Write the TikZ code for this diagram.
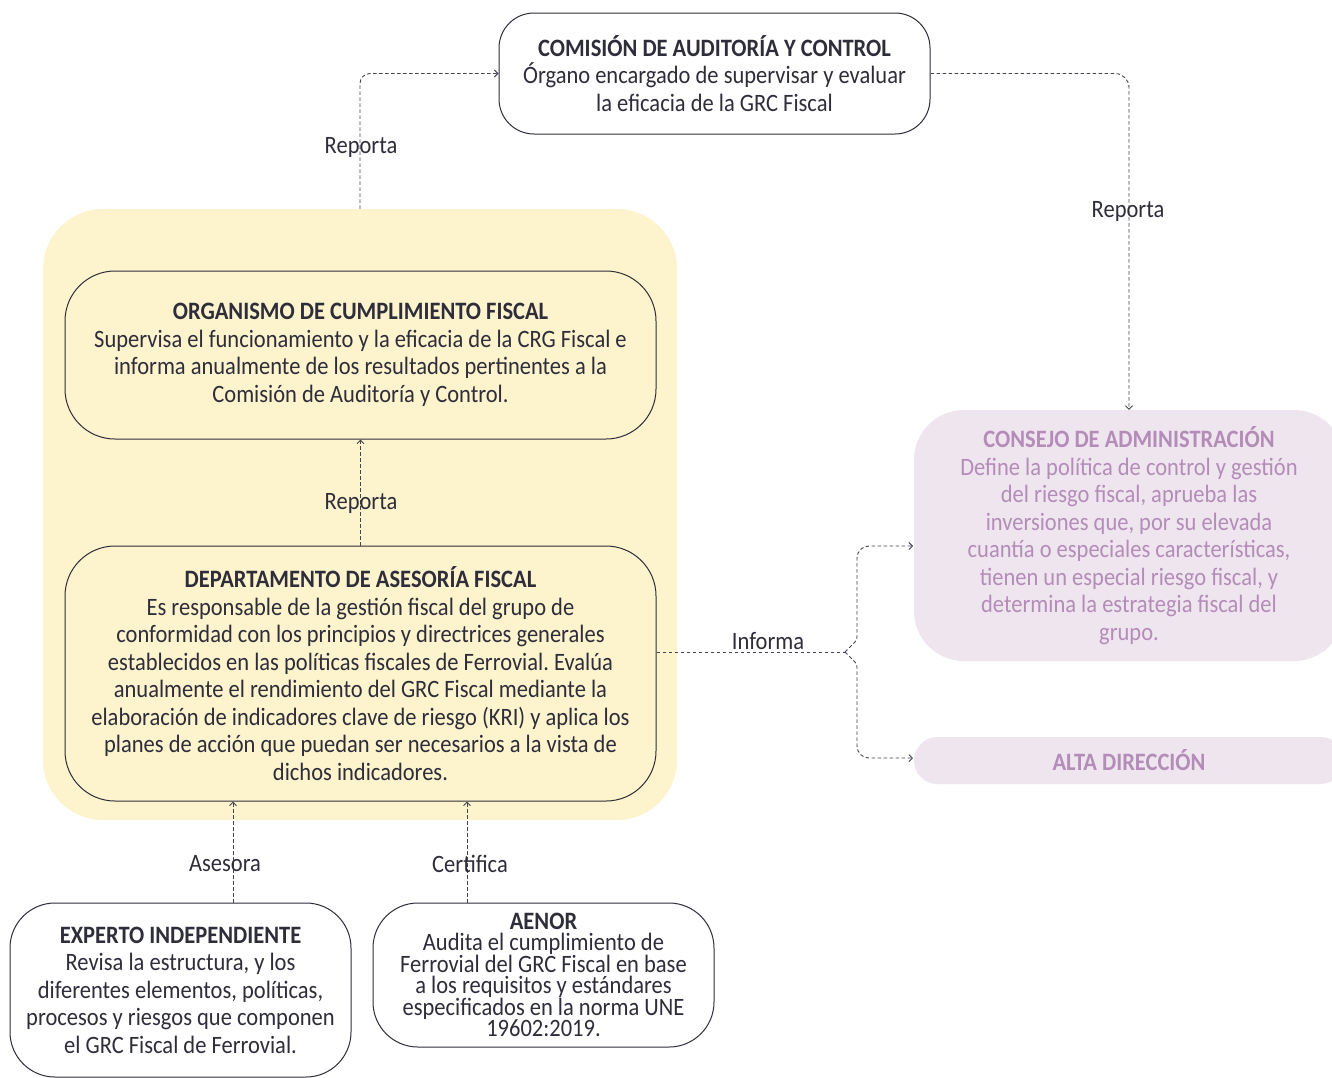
\documentclass[tikz,border=0pt]{standalone}
\usepackage{fontspec}
\setmainfont{Carlito}[FakeStretch=0.9]
\usetikzlibrary{arrows.meta}
\definecolor{ink}{HTML}{2E2D3A}
\definecolor{lnk}{HTML}{44434F}
\definecolor{yel}{HTML}{FDF3CD}
\definecolor{lil}{HTML}{EEE5EF}
\definecolor{liltext}{HTML}{B48CB8}
\newcommand\myBody{\fontsize{25}{27.5}\selectfont}
\newcommand\myTight{\fontsize{25}{21.5}\selectfont}
\frenchspacing
\begin{document}
\frenchspacing
\begin{tikzpicture}[x=1pt,y=-1pt,
  box/.style={draw=ink, line width=1pt, align=center, text=ink, inner sep=0pt, font=\myBody},
  pbox/.style={fill=lil, align=center, text=liltext, inner sep=0pt, font=\myBody},
  conn/.style={draw=lnk, line width=0.9pt, dash pattern=on 3.5pt off 2.5pt, -{Straight Barb[length=3.5pt,width=7pt]}},
  dl/.style={draw=lnk, line width=0.9pt, dash pattern=on 3.5pt off 2.5pt},
  lab/.style={text=ink, font=\myBody, inner sep=0pt}
]
\useasboundingbox (0,0) rectangle (1332,1077);
\fill[white] (0,0) rectangle (1332,1077);

% group background
\node[fill=yel, rounded corners=60pt, minimum width=634pt, minimum height=611pt, inner sep=0pt] (grp) at (360,514.5) {};

\node[box, rounded corners=35pt, minimum width=431pt, minimum height=121pt, fill=white] (com) at (714.5,73.5)
 {{\bfseries COMISIÓN DE AUDITORÍA Y CONTROL}\\Órgano encargado de supervisar y evaluar\\la eficacia de la GRC Fiscal};

\node[box, rounded corners=50pt, minimum width=591pt, minimum height=168pt, fill=yel] (org) at (360.5,355)
 {{\bfseries ORGANISMO DE CUMPLIMIENTO FISCAL}\\Supervisa el funcionamiento y la eficacia de la CRG Fiscal e\\informa anualmente de los resultados pertinentes a la\\Comisión de Auditoría y Control.};

\node[box, rounded corners=50pt, minimum width=591pt, minimum height=255pt, fill=yel] (dep) at (360.5,673.5)
 {{\bfseries DEPARTAMENTO DE ASESORÍA FISCAL}\\Es responsable de la gestión fiscal del grupo de\\conformidad con los principios y directrices generales\\establecidos en las políticas fiscales de Ferrovial. Evalúa\\anualmente el rendimiento del GRC Fiscal mediante la\\elaboración de indicadores clave de riesgo (KRI) y aplica los\\planes de acción que puedan ser necesarios a la vista de\\dichos indicadores.};

\node[pbox, rounded corners=50pt, minimum width=430pt, minimum height=251pt] (cons) at (1129,535.5)
 {{\bfseries CONSEJO DE ADMINISTRACIÓN}\\Define la política de control y gestión\\del riesgo fiscal, aprueba las\\inversiones que, por su elevada\\cuantía o especiales características,\\tienen un especial riesgo fiscal, y\\determina la estrategia fiscal del\\grupo.};

\node[pbox, rounded corners=23.5pt, minimum width=430pt, minimum height=47pt] (alta) at (1129,760.5)
 {{\bfseries ALTA DIRECCIÓN}};

\node[box, rounded corners=45pt, minimum width=341pt, minimum height=174pt, fill=white] (exp) at (180.5,990)
 {{\bfseries EXPERTO INDEPENDIENTE}\\Revisa la estructura, y los\\diferentes elementos, políticas,\\procesos y riesgos que componen\\el GRC Fiscal de Ferrovial.};

\node[box, rounded corners=45pt, minimum width=341pt, minimum height=144pt, fill=white, font=\myTight] (aen) at (543.5,975)
 {{\bfseries AENOR}\\Audita el cumplimiento de\\Ferrovial del GRC Fiscal en base\\a los requisitos y estándares\\especificados en la norma UNE\\19602:2019.};

% helper coordinates
\coordinate (br) at (845,652);
\coordinate (ca) at (913,546);
\coordinate (cb) at (913,758);
\coordinate (xa) at (233,0);
\coordinate (xc) at (467,0);

% connectors
\draw[conn, rounded corners=10pt] (grp.north) |- (com.west);
\draw[conn, rounded corners=14pt] (com.east) -| (cons.north);
\draw[conn] (dep.north) -- (org.south);
\draw[dl] (br -| dep.east) -- (br);
\draw[conn] (br) [rounded corners=3pt] -- (857,640) [rounded corners=12pt] -- (857,546) -- (ca);
\draw[conn] (br) [rounded corners=3pt] -- (857,664) [rounded corners=12pt] -- (857,758) -- (cb);
\draw[conn] (exp.north -| xa) -- (dep.south -| xa);
\draw[conn] (aen.north -| xc) -- (dep.south -| xc);

% labels
\node[lab] (l1) at (361,147) {Reporta};
\node[lab] (l2) at (1128,211) {Reporta};
\node[lab] (l3) at (361,503) {Reporta};
\node[lab] (l4) at (768,641) {Informa};
\node[lab] (l5) at (225,864) {Asesora};
\node[lab] (l6) at (470,864) {Certifica};
\end{tikzpicture}
\end{document}
